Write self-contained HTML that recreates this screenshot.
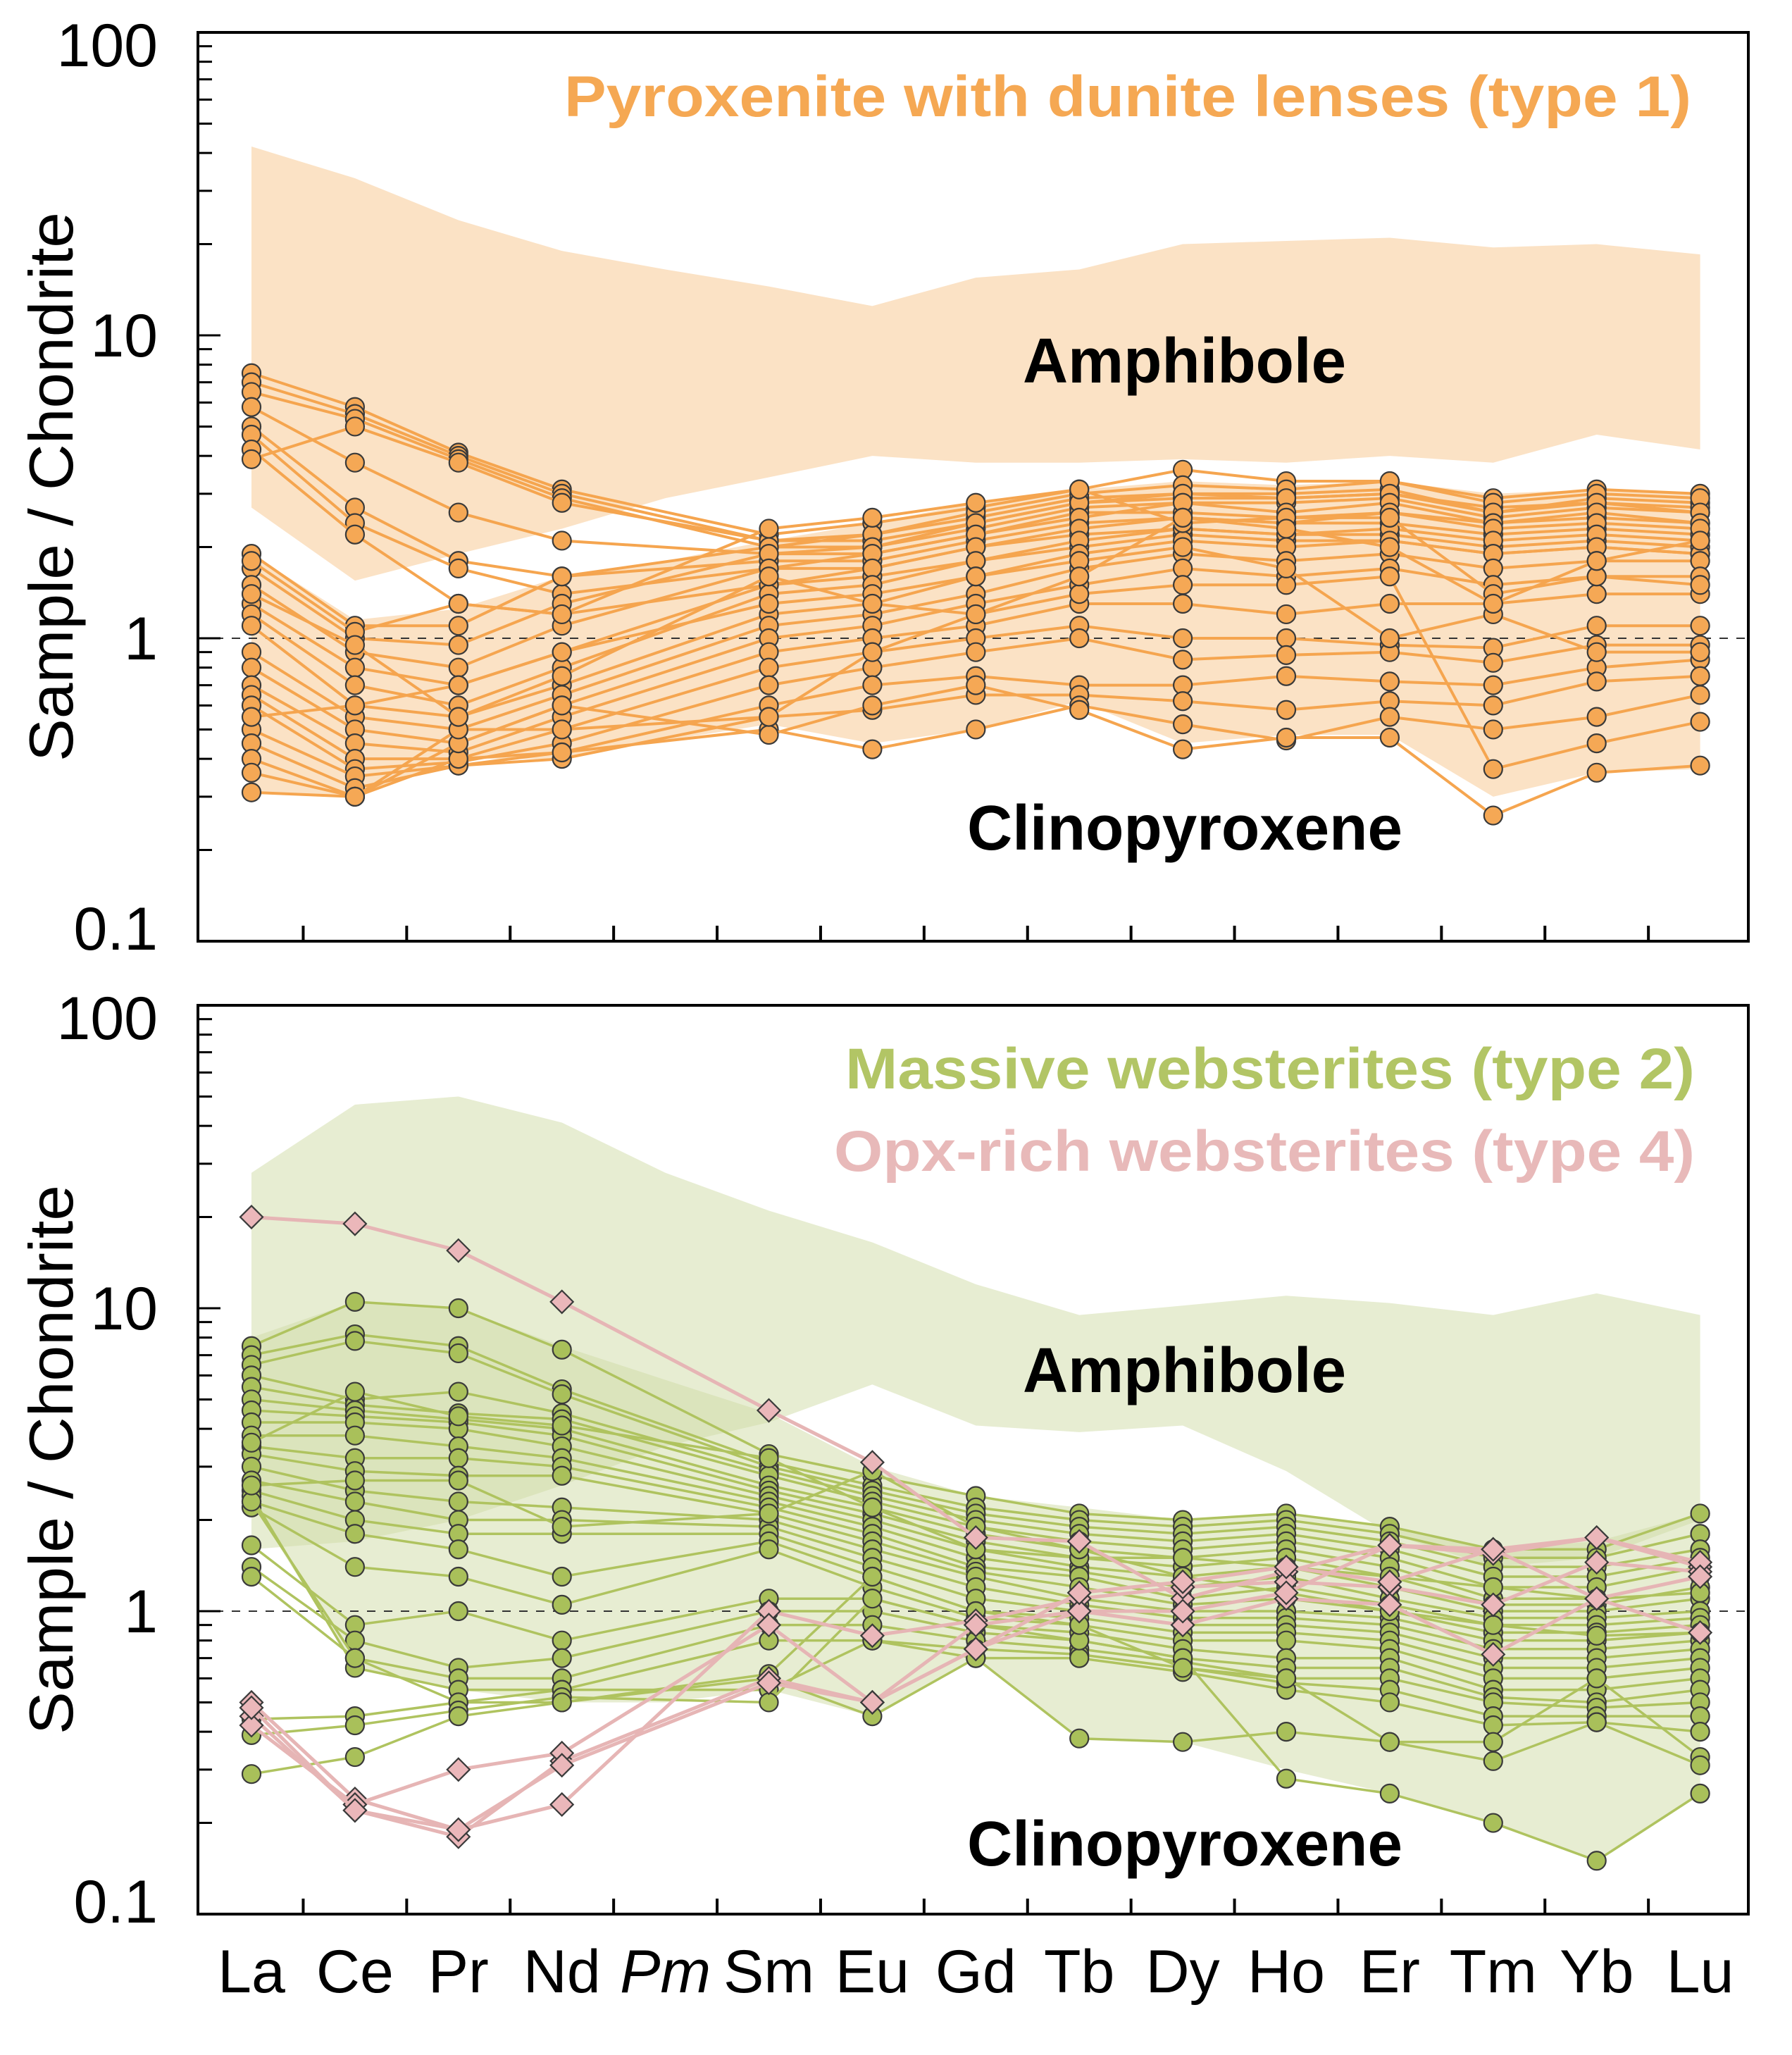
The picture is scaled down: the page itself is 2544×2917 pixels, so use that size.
<!DOCTYPE html>
<html><head><meta charset="utf-8"><style>
html,body{margin:0;padding:0;background:#fff;}
svg{display:block;font-family:"Liberation Sans",Arial,sans-serif;}
</style></head><body>
<svg id="chart" width="2544" height="2917" viewBox="0 0 2544 2917" xmlns="http://www.w3.org/2000/svg">
<g id="top"></g>
<g id="bot"></g>
</svg>
<script>
const elements = ["La","Ce","Pr","Nd","Pm","Sm","Eu","Gd","Tb","Dy","Ho","Er","Tm","Yb","Lu"];
const yTickLabels = ["100","10","1","0.1"];
const yTickValues = [100,10,1,0.1];

// Top panel bands
const topAmphUpper = [42,33,24,19,16.5,14.5,12.5,15.5,16.5,20,20.5,21,19.5,20,18.5];
const topAmphLower = [2.7,1.55,1.9,2.3,2.9,3.4,4.0,3.8,3.8,3.9,3.8,4.0,3.8,4.7,4.2];
const topCpxUpper = [1.9,1.15,1.25,1.6,1.8,2.1,2.4,2.8,3.1,3.3,3.2,3.3,3.0,3.1,3.0];
const topCpxLower = [0.31,0.3,0.4,0.4,0.46,0.52,0.45,0.5,0.62,0.45,0.48,0.48,0.3,0.36,0.37];

// Top panel samples (type 1)
const type1 = [
[7.5,5.8,4.1,3.1,null,2.2,2.4,2.7,3.1,3.6,3.3,3.3,2.9,3.1,3.0],
[7.0,5.5,4.0,3.0,null,2.1,2.2,2.5,2.9,3.0,3.0,3.1,2.6,2.9,2.8],
[6.5,5.3,3.9,2.9,null,2.0,2.0,2.3,2.7,2.8,2.8,2.9,2.5,2.7,2.6],
[5.8,3.8,2.6,2.1,null,1.9,1.9,2.2,2.6,2.6,2.5,2.6,2.4,2.5,2.4],
[5.0,2.7,1.8,1.6,null,1.8,1.8,2.1,2.4,2.5,2.4,2.4,2.2,2.3,2.2],
[4.7,2.4,1.7,1.4,null,1.7,1.7,2.0,2.2,2.3,2.2,2.2,2.0,2.1,2.0],
[4.2,2.2,1.3,1.2,null,1.5,1.6,1.8,2.0,2.2,2.1,2.1,1.9,2.0,1.9],
[3.9,5.0,3.8,2.8,null,2.1,2.1,2.4,2.8,2.9,2.9,3.0,2.7,2.8,2.7],
[1.9,1.1,1.1,1.6,null,2.0,2.2,2.6,3.0,3.2,3.1,3.3,2.8,3.0,2.9],
[1.7,1.0,0.95,1.3,null,1.9,2.0,2.4,2.8,3.0,2.9,3.0,2.6,2.8,2.6],
[1.5,0.9,0.8,1.1,null,1.7,1.9,2.2,2.5,2.8,2.6,2.8,2.4,2.6,2.4],
[1.3,0.8,0.7,0.9,null,1.5,1.7,2.0,2.3,2.5,2.4,2.6,2.3,2.4,2.3],
[1.2,0.7,0.6,0.8,null,1.4,1.5,1.8,2.1,2.3,2.2,2.3,2.1,2.2,2.1],
[1.1,0.6,0.55,0.7,null,1.2,1.3,1.6,1.9,2.1,2.0,2.1,1.9,2.0,1.9],
[0.9,0.55,0.5,0.65,null,1.1,1.2,1.4,1.7,1.9,1.8,1.9,1.7,1.8,1.8],
[0.8,0.5,0.45,0.6,null,1.0,1.1,1.3,1.5,1.7,1.6,1.7,1.5,1.6,1.6],
[0.7,0.45,0.42,0.55,null,0.9,1.0,1.1,1.3,1.3,1.2,1.3,1.3,1.4,1.4],
[0.65,0.4,0.4,0.5,null,0.8,0.9,1.0,1.1,1.0,1.0,0.95,0.93,1.1,1.1],
[0.6,0.37,0.39,0.45,null,0.7,0.8,0.9,1.0,0.85,0.88,0.9,0.83,0.95,0.95],
[0.5,0.35,0.38,0.42,null,0.6,0.7,0.75,0.7,0.7,0.75,0.72,0.7,0.8,0.85],
[0.45,0.32,0.38,0.4,null,0.55,0.58,0.65,0.65,0.62,0.58,0.62,0.6,0.72,0.75],
[0.4,0.3,0.4,0.42,null,0.5,0.43,0.5,0.6,0.52,0.46,0.55,0.5,0.55,0.65],
[0.36,0.3,0.45,0.6,null,0.48,0.6,0.7,0.58,0.43,0.47,0.47,0.26,0.36,0.38],
[0.31,0.3,0.5,0.5,null,0.55,0.9,1.2,1.4,1.5,1.5,1.6,0.37,0.45,0.53],
[1.8,1.05,1.3,1.2,null,2.3,2.5,2.8,3.1,2.4,2.5,2.5,1.4,1.6,1.5],
[0.55,0.6,0.7,0.9,null,1.3,1.4,1.6,1.8,2.0,1.7,1.0,1.2,0.9,0.9],
[1.4,0.95,0.55,0.75,null,1.6,1.3,1.2,1.6,2.5,2.3,2.0,1.3,1.8,2.1]
];

// Bottom panel bands
const botAmphUpper = [28,47,50,41,28,21,16.5,12,9.5,10.2,11,10.4,9.5,11.2,9.5];
const botAmphLower = [1.6,1.7,2.0,2.6,3.5,4.2,5.6,4.1,3.9,4.1,2.9,1.8,1.4,1.5,2.0];
const botCpxUpper = [8,10.5,10,7.5,5.8,4.5,3.0,2.4,2.2,2.0,2.1,1.9,1.6,1.7,2.1];
const botCpxLower = [2.3,0.65,0.55,0.5,0.5,0.55,0.45,0.7,0.38,0.37,0.3,0.25,0.2,0.15,0.25];

// Bottom panel samples (type 2)
const type2 = [
[7.5,10.5,10,7.3,null,3.3,2.8,2.4,2.1,2.0,2.1,1.9,1.6,1.6,2.1],
[7.0,8.2,7.5,5.4,null,3.1,2.6,2.2,2.0,1.9,2.0,1.8,1.5,1.5,1.8],
[6.5,7.8,7.1,5.2,null,3.0,2.5,2.1,1.9,1.8,1.9,1.7,1.4,1.4,1.6],
[6.0,5.0,5.3,4.5,null,2.9,2.4,2.0,1.8,1.7,1.8,1.6,1.3,1.3,1.5],
[5.5,4.8,4.5,4.3,null,2.8,2.3,1.9,1.7,1.6,1.7,1.5,1.2,1.2,1.4],
[5.0,4.6,4.3,4.0,null,2.6,2.2,1.8,1.6,1.5,1.6,1.4,1.1,1.1,1.3],
[4.6,4.4,4.2,3.8,null,2.5,2.1,1.7,1.5,1.4,1.5,1.3,1.05,1.05,1.2],
[4.2,4.2,4.0,3.5,null,2.4,2.0,1.6,1.4,1.3,1.4,1.2,1.0,1.0,1.1],
[3.8,3.8,3.5,3.2,null,2.3,1.9,1.5,1.35,1.2,1.3,1.1,0.95,0.95,1.0],
[3.5,3.2,3.2,3.0,null,2.2,1.8,1.4,1.3,1.1,1.2,1.05,0.9,0.9,0.95],
[3.3,2.9,2.8,2.8,null,2.1,1.7,1.35,1.2,1.05,1.1,1.0,0.85,0.85,0.9],
[3.0,2.5,2.3,2.2,null,2.0,1.6,1.3,1.1,1.0,1.0,0.95,0.8,0.8,0.85],
[2.7,2.3,2.0,2.0,null,1.9,1.5,1.2,1.05,0.95,0.95,0.9,0.75,0.75,0.8],
[2.5,2.0,1.8,1.8,null,1.8,1.4,1.1,1.0,0.9,0.9,0.85,0.7,0.7,0.75],
[2.3,1.8,1.6,1.3,null,1.7,1.3,1.0,0.95,0.85,0.85,0.8,0.65,0.65,0.7],
[2.2,1.4,1.3,1.05,null,1.6,1.2,0.95,0.9,0.8,0.8,0.75,0.6,0.6,0.65],
[1.65,0.9,1.0,0.8,null,1.1,1.1,0.9,0.85,0.75,0.7,0.7,0.55,0.55,0.6],
[1.4,0.8,0.65,0.7,null,1.0,1.0,0.85,0.8,0.7,0.65,0.65,0.52,0.5,0.55],
[1.3,0.7,0.6,0.6,null,0.9,0.9,0.8,0.75,0.68,0.6,0.6,0.5,0.48,0.5],
[2.4,0.65,0.55,0.55,null,0.8,0.8,0.75,0.72,0.65,0.58,0.55,0.45,0.45,0.45],
[2.3,0.7,0.5,0.5,null,0.6,0.45,0.7,0.7,0.63,0.55,0.5,0.42,0.43,0.4],
[0.44,0.45,0.5,0.55,null,0.55,0.8,0.7,0.38,0.37,0.4,0.37,0.37,0.6,0.33],
[0.39,0.42,0.47,0.52,null,0.5,1.1,0.9,0.8,0.7,0.28,0.25,0.2,0.15,0.25],
[0.29,0.33,0.45,0.5,null,0.62,1.3,1.0,0.9,0.65,0.6,0.37,0.32,0.43,0.31],
[3.6,5.3,4.4,4.1,null,3.2,2.2,1.6,1.5,1.5,1.4,1.3,1.2,1.1,1.15],
[2.6,2.7,2.7,1.9,null,2.1,2.9,1.9,1.6,1.3,1.15,1.0,0.9,0.83,0.85]
];

// Bottom panel samples (type 4)
const type4 = [
[20,19,15.5,10.5,null,4.6,3.1,1.75,1.7,1.1,1.35,1.65,1.6,1.75,1.4],
[0.5,0.24,0.19,0.23,null,1.0,0.83,0.93,1.1,1.2,1.25,1.2,1.05,1.45,1.35],
[0.45,0.22,0.18,0.32,null,0.6,0.5,0.75,1.0,0.9,1.1,1.05,0.72,1.1,0.85],
[0.42,0.23,0.3,0.34,null,0.9,0.5,0.9,1.0,1.0,1.15,1.65,1.55,1.75,1.45],
[0.48,0.22,0.19,0.31,null,0.58,0.5,0.75,1.15,1.25,1.4,1.25,1.6,1.1,1.3]
];

const NS="http://www.w3.org/2000/svg";
const X0=281, X1=2482, DEC=430;
function xOf(i){ return 357 + 146.9*i; }
function mk(tag, attrs, parent){ const e=document.createElementNS(NS,tag); for(const k in attrs) e.setAttribute(k,attrs[k]); parent.appendChild(e); return e; }

function panel(g, yTop, y1, cfg){
  const yOf = v => y1 - DEC*Math.log10(v);
  const yBot = yOf(0.1);
  cfg.bands.forEach(b=>{
    let pts=[];
    b.up.forEach((v,i)=>pts.push(xOf(i)+","+yOf(v)));
    for(let i=b.lo.length-1;i>=0;i--) pts.push(xOf(i)+","+yOf(b.lo[i]));
    const p=mk("polygon",{points:pts.join(" "),fill:b.fill,"fill-opacity":b.op},g);
    
    
  });
  const dl=mk("line",{x1:X0,x2:X1,y1:yOf(1),y2:yOf(1),stroke:"#333","stroke-width":2,"stroke-dasharray":"12,12"},g);
  
  
  cfg.series.forEach(s=>{
    s.data.forEach((row,ri)=>{
      const sg=mk("g",{},g);
      
      
      let pts=[];
      row.forEach((v,i)=>{ if(v!=null) pts.push(xOf(i)+","+yOf(v)); });
      mk("polyline",{points:pts.join(" "),fill:"none",stroke:s.line,"stroke-width":s.lw,"stroke-linejoin":"round"},sg);
      row.forEach((v,i)=>{
        if(v==null) return;
        const cx=xOf(i), cy=yOf(v); let m;
        if(s.shape==="circle") m=mk("circle",{cx:cx,cy:cy,r:13,fill:s.fill,stroke:"#3a3a3a","stroke-width":2.2},sg);
        else m=mk("polygon",{points:`${cx},${cy-16} ${cx+16},${cy} ${cx},${cy+16} ${cx-16},${cy}`,fill:s.fill,stroke:"#3a3a3a","stroke-width":2.2},sg);
        
        
      });
    });
  });
  const fr=mk("rect",{x:X0,y:yTop,width:X1-X0,height:yBot-yTop,fill:"none",stroke:"#000","stroke-width":4},g);
  
  
  for(let d=-1; d<2; d++){
    for(let k=1;k<10;k++){
      const v=k*Math.pow(10,d); const y=yOf(v);
      const t=mk("line",{x1:X0,x2:X0+(k===1?32:20),y1:y,y2:y,stroke:"#000","stroke-width":3},g);
      
      
    }
  }
  yTickValues.forEach((v,i)=>{
    let y=yOf(v)+30; if(v===100) y=yOf(v)+48; if(v===0.1) y=yOf(v)+12;
    const t=mk("text",{x:224,y:y,"text-anchor":"end","font-size":86,fill:"#000"},g);
    t.textContent=yTickLabels[i];
    
    
  });
  for(let i=0;i<14;i++){
    const x=(xOf(i)+xOf(i+1))/2;
    const t=mk("line",{x1:x,x2:x,y1:yBot,y2:yBot-22,stroke:"#000","stroke-width":4},g);
    
    
  }
  const cy=(yTop+yBot)/2;
  const yt=mk("text",{x:0,y:0,transform:`translate(103,${cy}) rotate(-90)`,"text-anchor":"middle","font-size":88,fill:"#000",textLength:780,lengthAdjust:"spacingAndGlyphs"},g);
  yt.textContent="Sample / Chondrite";
  
  
  cfg.texts.forEach(t=>{
    const e=mk("text",{x:t.x,y:t.y,"font-size":t.fs,"font-weight":"bold",fill:t.c,textLength:t.w,lengthAdjust:"spacingAndGlyphs"},g);
    e.textContent=t.s;
    
    
  });
}

panel(document.getElementById("top"), 46, 906, {
  bands:[{up:topAmphUpper,lo:topAmphLower,fill:"#fbe2c5",op:1,name:"amphibole-band"},
         {up:topCpxUpper,lo:topCpxLower,fill:"#fbe2c5",op:1,name:"clinopyroxene-band"}],
  series:[{data:type1,name:"type1",line:"#f5a54f",fill:"#f5a855",lw:4,shape:"circle"}],
  texts:[{s:"Pyroxenite with dunite lenses (type 1)",x:801,y:165,fs:82,w:1600,c:"#f5a853",name:"legend-type1"},
         {s:"Amphibole",x:1452,y:543,fs:90,w:459,c:"#000",name:"amphibole-label"},
         {s:"Clinopyroxene",x:1373,y:1206,fs:90,w:618,c:"#000",name:"clinopyroxene-label"}]
});

panel(document.getElementById("bot"), 1427, 2287, {
  bands:[{up:botAmphUpper,lo:botAmphLower,fill:"#cfdba5",op:0.5,name:"amphibole-band"},
         {up:botCpxUpper,lo:botCpxLower,fill:"#cfdba5",op:0.5,name:"clinopyroxene-band"}],
  series:[{data:type2,name:"type2",line:"#afc35f",fill:"#a9c05a",lw:3.5,shape:"circle"},
          {data:type4,name:"type4",line:"#e6b5b5",fill:"#ebb7ba",lw:5,shape:"diamond"}],
  texts:[{s:"Massive websterites (type 2)",x:1200,y:1545,fs:82,w:1206,c:"#b2c565",name:"legend-type2"},
         {s:"Opx-rich websterites (type 4)",x:1184,y:1662,fs:82,w:1222,c:"#e8b9b9",name:"legend-type4"},
         {s:"Amphibole",x:1452,y:1976,fs:90,w:459,c:"#000",name:"amphibole-label"},
         {s:"Clinopyroxene",x:1373,y:2648,fs:90,w:618,c:"#000",name:"clinopyroxene-label"}]
});

const svg=document.getElementById("chart");
elements.forEach((el,i)=>{
  const t=mk("text",{x:xOf(i),y:2828,"text-anchor":"middle","font-size":86,fill:"#000"},svg);
  if(el==="Pm") t.setAttribute("font-style","italic");
  t.textContent=el;
  
  
});
</script>
</body></html>
